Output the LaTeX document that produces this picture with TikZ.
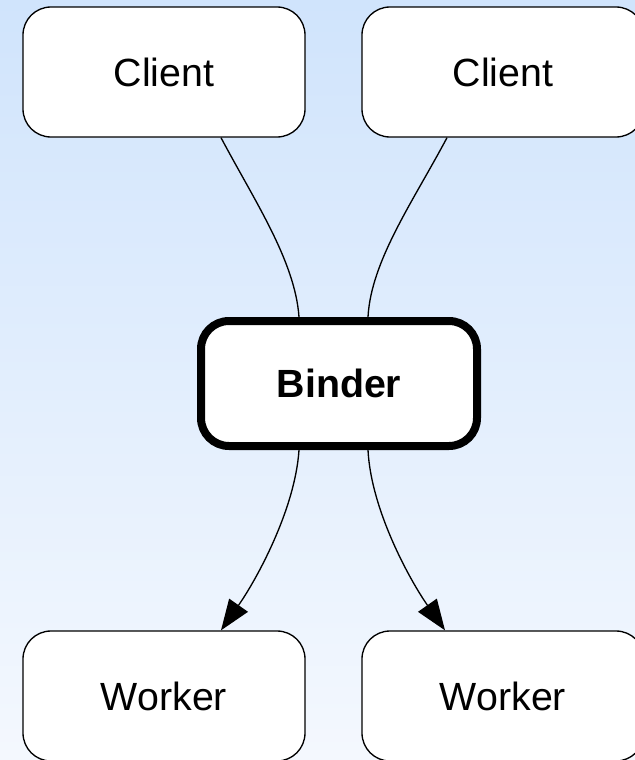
\documentclass[tikz,border=0pt]{standalone}
\usepackage{fontspec}
\setmainfont{Liberation Sans}
\usepackage{tikz}
\usetikzlibrary{calc,arrows.meta}

\definecolor{skytop}{RGB}{208,228,252}
\definecolor{skybot}{RGB}{244,248,254}

\begin{document}
\begin{tikzpicture}[x=0.75pt, y=-0.75pt,
  box/.style={draw, fill=white, rounded corners=21pt, line width=1pt,
    minimum width=211.5pt, minimum height=97.5pt, inner sep=0pt,
    font=\fontsize{29.5}{34}\selectfont},
  hub/.style={box, line width=6pt, minimum width=207pt, minimum height=93.75pt,
    font=\fontsize{29.5}{34}\selectfont\bfseries},
  link/.style={line width=1pt},
  feed/.style={link, -{Triangle[length=23pt, width=17pt]}}]

% background
\shade[top color=skytop, bottom color=skybot] (0,0) rectangle (635,760);
\useasboundingbox (0,0) rectangle (635,760);

% nodes
\node[box] (c1) at (164,72) {Client};
\node[box] (c2) at (503,72) {Client};
\node[hub] (b)  at (339,383.5) {Binder};
\node[box] (w1) at (164,696) {Worker};
\node[box] (w2) at (503,696) {Worker};

% clients into binder
\draw[link] ($(c1.south)+(57,0)$) .. controls +(34,64) and +(-4,-56) .. ($(b.north)+(-40,0)$);
\draw[link] ($(c2.south)+(-56,0)$) .. controls +(-34,64) and +(3,-56) .. ($(b.north)+(29,0)$);

% binder out to workers
\draw[feed] ($(b.south)+(-40,0)$) .. controls +(-4,60) and +(35,-50) .. ($(w1.north)+(57,0)$);
\draw[feed] ($(b.south)+(29,0)$) .. controls +(3,60) and +(-35,-50) .. ($(w2.north)+(-58,0)$);
\end{tikzpicture}
\end{document}
